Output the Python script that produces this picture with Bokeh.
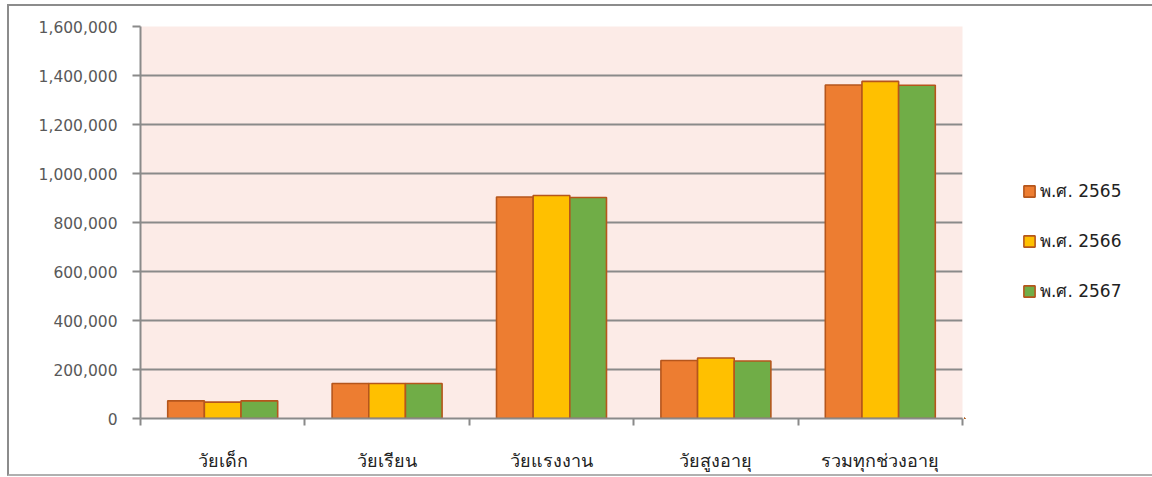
from bokeh.plotting import figure
from bokeh.layouts import row
from bokeh.models import (Range1d, FixedTicker, NumeralTickFormatter, Legend, LegendItem,
                          ColumnDataSource)
from bokeh.embed import file_html
from bokeh.resources import INLINE

categories = ["วัยเด็ก", "วัยเรียน", "วัยแรงงาน", "วัยสูงอายุ", "รวมทุกช่วงอายุ"]
series_names = ["พ.ศ. 2565", "พ.ศ. 2566", "พ.ศ. 2567"]
values_2565 = [72000, 143000, 904000, 237000, 1361000]
values_2566 = [67000, 143000, 910000, 247000, 1376000]
values_2567 = [72000, 143000, 902000, 235000, 1360000]
y_ticks = [0, 200000, 400000, 600000, 800000, 1000000, 1200000, 1400000, 1600000]

colors = ["#ED7D31", "#FFC000", "#70AD47"]
all_values = [values_2565, values_2566, values_2567]
EDGE = "#B5561C"
GRID = "#8a8a8a"

H = 468
p = figure(width=955, height=H, output_backend="svg", toolbar_location=None,
           x_range=Range1d(0, len(categories)), y_range=Range1d(0, 1600000),
           min_border_left=131, min_border_right=2, min_border_top=20, min_border_bottom=47)
p.border_fill_color = "white"
p.outline_line_color = None
p.background_fill_color = "#FCEBE7"

bar_w = 0.223
offsets = [-bar_w, 0.0, bar_w]
sources = []
for vals, col, off in zip(all_values, colors, offsets):
    src = ColumnDataSource(dict(x=[i + 0.5 + off for i in range(len(categories))], top=vals))
    sources.append(src)
    p.vbar(x="x", top="top", width=bar_w, bottom=0, source=src, fill_color=col,
           line_color=EDGE, line_width=1.6)

# y axis
p.yaxis.ticker = FixedTicker(ticks=y_ticks)
p.yaxis.formatter = NumeralTickFormatter(format="0,0")
p.yaxis.axis_line_color = GRID
p.yaxis.axis_line_width = 2
p.yaxis.major_tick_line_color = GRID
p.yaxis.major_tick_line_width = 2
p.yaxis.major_tick_out = 8
p.yaxis.major_tick_in = 0
p.yaxis.minor_tick_line_color = None
p.yaxis.major_label_text_font = "DejaVu Sans"
p.yaxis.major_label_text_font_size = "15.5px"
p.yaxis.major_label_text_color = "#595959"
p.yaxis.major_label_standoff = 15

# x axis
p.xaxis.ticker = FixedTicker(ticks=[i + 0.5 for i in range(len(categories))],
                             minor_ticks=list(range(len(categories) + 1)))
p.xaxis.major_label_overrides = {i + 0.5: c for i, c in enumerate(categories)}
p.xaxis.axis_line_color = GRID
p.xaxis.axis_line_width = 2
p.xaxis.major_tick_line_color = None
p.xaxis.minor_tick_line_color = GRID
p.xaxis.minor_tick_line_width = 2
p.xaxis.minor_tick_out = 7
p.xaxis.minor_tick_in = 0
p.xaxis.major_label_text_font = "Noto Sans"
p.xaxis.major_label_text_font_size = "18px"
p.xaxis.major_label_text_color = "#222222"
p.xaxis.major_label_standoff = 22

p.xgrid.grid_line_color = None
p.ygrid.ticker = FixedTicker(ticks=y_ticks)
p.ygrid.grid_line_color = GRID
p.ygrid.grid_line_width = 2

# legend panel (its renderers share the series data but lie outside its visible range)
lf = figure(width=188, height=H, output_backend="svg", toolbar_location=None,
            x_axis_type=None, y_axis_type=None, min_border=0,
            x_range=Range1d(10, 11), y_range=Range1d(2000000, 3000000))
lf.outline_line_color = None
lf.background_fill_color = "white"
lf.border_fill_color = "white"
lf.grid.grid_line_color = None
items = []
for name, col, src in zip(series_names, colors, sources):
    r = lf.vbar(x="x", top="top", bottom=0, width=bar_w, source=src, fill_color=col,
                line_color=EDGE, line_width=1.6)
    items.append(LegendItem(label=name, renderers=[r]))

legend = Legend(items=items, location=(58, 114), orientation="vertical")
legend.glyph_width = 14
legend.glyph_height = 14
legend.label_text_font = "DejaVu Sans"
legend.label_text_font_size = "17px"
legend.label_text_color = "#222222"
legend.spacing = 23
legend.label_standoff = 4
legend.border_line_color = None
legend.background_fill_alpha = 0
legend.padding = 0
legend.margin = 0
lf.add_layout(legend, "center")

layout = row(p, lf)
layout.styles = {"border-top": "2px solid #8c8c8c", "border-left": "2px solid #8c8c8c",
                 "border-bottom": "2px solid #b0b0b0", "margin-left": "7px", "margin-top": "4px"}

open("out.html", "w").write(file_html(layout, INLINE))
